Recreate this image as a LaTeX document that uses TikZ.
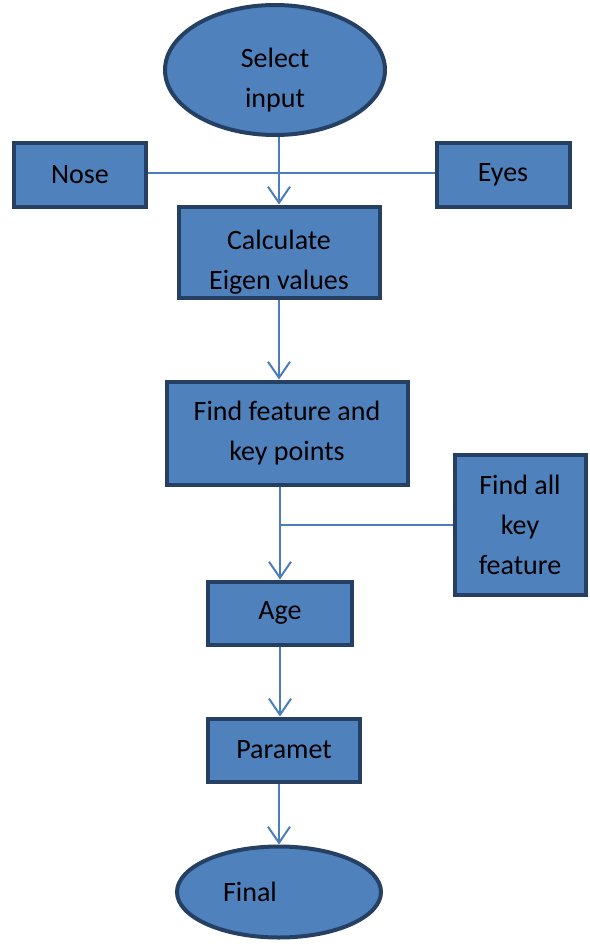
\documentclass[tikz,border=0pt]{standalone}
\usepackage{fontspec}
\setmainfont{Carlito}
\usetikzlibrary{shapes.geometric,arrows.meta}
\definecolor{boxfill}{RGB}{79,129,189}
\definecolor{boxline}{RGB}{38,64,100}
\definecolor{flowline}{RGB}{74,126,187}
% text set a little below the middle of its node
\newcommand{\lowtext}[1]{\raisebox{-16pt}[0pt][0pt]{\begin{tabular}{@{}c@{}}#1\end{tabular}}}
\begin{document}
\begin{tikzpicture}[x=1pt,y=-1pt,
            line width=2pt,
            main node/.style={rectangle,draw=boxline,fill=boxfill,line width=4pt,
                inner sep=0pt,align=center,font=\fontsize{28}{40}\selectfont},
            end node/.style={main node,ellipse},
            flow/.style={draw=flowline,line width=2pt},
            arrow/.style={flow,-{Straight Barb[length=16pt,width=22pt,line width=2pt]}}]

        \useasboundingbox (0,0) rectangle (589,944);

        % Define vertices
        \node[end node,minimum width=220pt,minimum height=130pt] (select) at (275,70) {\lowtext{Select\\input}};
        \node[main node,minimum width=132pt,minimum height=63pt] (nose) at (80,175) {Nose};
        \node[main node,minimum width=133pt,minimum height=64pt] (eyes) at (503,175) {Eyes};
        \node[main node,minimum width=201pt,minimum height=91pt] (calc) [below of=select,node distance=182pt,xshift=4pt] {\lowtext{Calculate\\Eigen values}};
        \node[main node,minimum width=241pt,minimum height=103pt] (find) [below of=calc,node distance=181pt,xshift=8pt] {Find feature and\\key points};
        \node[main node,minimum width=131pt,minimum height=140pt] (keyf) at (520,525) {Find all\\key\\feature};
        \node[main node,minimum width=144pt,minimum height=63pt] (age) [below of=find,node distance=180pt,xshift=-7pt] {Age};
        \node[main node,minimum width=152pt,minimum height=63pt] (param) [below of=age,node distance=137pt,xshift=4pt] {Paramet};
        \node[end node,minimum width=204pt,minimum height=91pt] (final) [below of=param,node distance=142pt,xshift=-5pt] {Final\hspace{58pt}};

        % Draw edges
        \draw[flow] ([yshift=2pt]nose.east) -- ([yshift=2pt]eyes.west);
        \draw[flow] (keyf.west) -- (keyf.west -| age.north);
        \draw[arrow] (calc.north |- select.south) -- (calc.north);
        \draw[arrow] (calc.south) -- (calc.south |- find.north);
        \draw[arrow] (age.north |- find.south) -- (age.north);
        \draw[arrow] (age.south) -- (age.south |- param.north);
        \draw[arrow] (final.north |- param.south) -- (final.north);

        \end{tikzpicture}
\end{document}
